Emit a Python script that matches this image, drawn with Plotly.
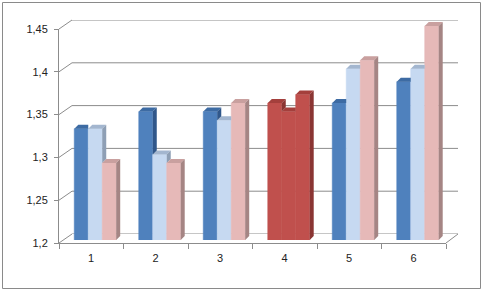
import plotly.graph_objects as go

categories = ["1", "2", "3", "4", "5", "6"]
series_a = [1.33, 1.35, 1.35, 1.36, 1.36, 1.385]
series_b = [1.33, 1.30, 1.34, 1.35, 1.40, 1.40]
series_c = [1.29, 1.29, 1.36, 1.37, 1.41, 1.45]
highlight_category = "4"
y_ticks = [1.2, 1.25, 1.3, 1.35, 1.4, 1.45]

# colour schemes: (front, top, side)
SCHEMES = {
    "a": ("#4F81BD", "#3D6BA3", "#30578A"),
    "b": ("#C6D9F1", "#A3B6CF", "#8E9FB5"),
    "c": ("#E6B9B8", "#C9A09F", "#A58584"),
    "hl": ("#C0504D", "#A43F3C", "#8A3533"),
}

# pixel geometry
W_FIG, H_FIG = 483, 291
PL, PR, PT, PB = 59, 458, 19, 243
PW, PH = PR - PL, PB - PT


def fx(p):
    return (p - PL) / PW


def fy(p):
    return (PB - p) / PH


n = len(categories)
series = [("a", series_a), ("b", series_b), ("c", series_c)]
bargap = 0.35
bw = (1 - bargap) / 3
px_per_x = 387 / 6
px_per_y = 214 / 0.25
dx = 4 / px_per_x
dy = 4 / px_per_y
base = 1.2

fig = go.Figure()

for j, (key, vals) in enumerate(series):
    colors = [SCHEMES["hl"][0] if categories[i] == highlight_category else SCHEMES[key][0] for i in range(n)]
    fig.add_trace(go.Bar(
        x=list(range(1, n + 1)), y=vals,
        marker=dict(color=colors, line=dict(width=0.6, color=colors)),
        xaxis="x2", yaxis="y3", showlegend=False, hoverinfo="skip",
    ))

# 3D faces built from the data values
polys = {}


def add_poly(k, pts):
    xs, ys = polys.setdefault(k, ([], []))
    for (a, b) in pts:
        xs.append(a)
        ys.append(b)
    xs.append(pts[0][0]); ys.append(pts[0][1])
    xs.append(None); ys.append(None)


for i in range(n):
    for j, (key, vals) in enumerate(series):
        sch = "hl" if categories[i] == highlight_category else key
        t = vals[i]
        left = (i + 1) + (j - 1) * bw - bw / 2
        right = left + bw
        nxt = series[j + 1][1][i] if j < 2 else None
        # top face
        if nxt is not None and nxt >= t:
            add_poly((sch, 1), [(left, t), (right, t), (right, t + dy), (left + dx, t + dy)])
        else:
            add_poly((sch, 1), [(left, t), (right, t), (right + dx, t + dy), (left + dx, t + dy)])
        # side face
        if nxt is None:
            add_poly((sch, 2), [(right, base), (right + dx, base + dy), (right + dx, t + dy), (right, t)])
        elif nxt < t:
            b0 = max(nxt, base)
            add_poly((sch, 2), [(right, b0), (right + dx, b0 + dy), (right + dx, t + dy), (right, t)])

for (sch, face), (xs, ys) in polys.items():
    col = SCHEMES[sch][face]
    fig.add_trace(go.Scatter(
        x=xs, y=ys, mode="lines", fill="toself", fillcolor=col,
        line=dict(width=0, color=col), xaxis="x2", yaxis="y3",
        showlegend=False, hoverinfo="skip",
    ))

# empty traces to create the back-wall and front-axis subplots
fig.add_trace(go.Scatter(x=[], y=[], xaxis="x3", yaxis="y2", showlegend=False))
fig.add_trace(go.Scatter(x=[], y=[], xaxis="x", yaxis="y", showlegend=False))

GRID = "#8C8C8C"
font = dict(family="Liberation Sans, Arial, sans-serif", size=11, color="#222222")

hidden = dict(showticklabels=False, showgrid=False, showline=False,
              zeroline=False, ticks="", fixedrange=True)

shapes = []
# back-wall gridlines at the tick values (on the back-wall y axis)
for v in y_ticks:
    shapes.append(dict(type="line", xref="paper", yref="y2",
                       x0=fx(72), x1=fx(458), y0=v, y1=v,
                       line=dict(color=GRID, width=1), layer="below"))
# diagonal connectors from front y-axis to back wall
for v in y_ticks:
    yf = 243 - (v - 1.2) * px_per_y
    yb = 234 - (v - 1.2) * px_per_y
    shapes.append(dict(type="line", xref="paper", yref="paper",
                       x0=fx(59), y0=fy(yf), x1=fx(72), y1=fy(yb),
                       line=dict(color=GRID, width=1), layer="below"))
# bottom-right floor diagonal
shapes.append(dict(type="line", xref="paper", yref="paper",
                   x0=fx(446), y0=fy(243), x1=fx(458), y1=fy(234),
                   line=dict(color=GRID, width=1), layer="below"))
# outer border
shapes.append(dict(type="rect", xref="paper", yref="paper",
                   x0=fx(2.5), y0=fy(288.5), x1=fx(480.5), y1=fy(2.5),
                   line=dict(color="#8A8A8A", width=1), fillcolor="rgba(0,0,0,0)",
                   layer="below"))

fig.update_layout(
    width=W_FIG, height=H_FIG,
    margin=dict(l=PL, r=W_FIG - PR, t=PT, b=H_FIG - PB),
    paper_bgcolor="white", plot_bgcolor="rgba(0,0,0,0)",
    barmode="group", bargap=bargap, bargroupgap=0,
    separators=", ",
    font=font,
    shapes=shapes,
    xaxis=dict(domain=[0, 387 / PW], range=[0.5, 6.5], anchor="y",
               tickvals=[0.5 + k for k in range(n + 1)],
               ticktext=categories + [""], ticklabelshift=32,
               ticks="outside", ticklen=5, tickcolor=GRID,
               showline=True, linecolor=GRID, showgrid=False, zeroline=False,
               tickfont=font, fixedrange=True),
    xaxis2=dict(domain=[4 / PW, 391 / PW], range=[0.5, 6.5], anchor="y3", **hidden),
    xaxis3=dict(domain=[13 / PW, 1], range=[0, 1], anchor="y2", **hidden),
    yaxis=dict(domain=[0, 1 - 10 / PH], range=[1.2, 1.45], anchor="x",
               tickvals=y_ticks, ticks="outside", ticklen=4, tickcolor=GRID,
               showline=True, linecolor=GRID, showgrid=False, zeroline=False,
               tickfont=font, ticklabelstandoff=4, fixedrange=True),
    yaxis2=dict(domain=[9 / PH, 1 - 1 / PH], range=[1.2, 1.45], anchor="x3", **hidden),
    yaxis3=dict(domain=[3 / PH, 1], range=[1.2, 1.45 + 7 / px_per_y], anchor="x2", **hidden),
)

fig.write_html("out.html")
